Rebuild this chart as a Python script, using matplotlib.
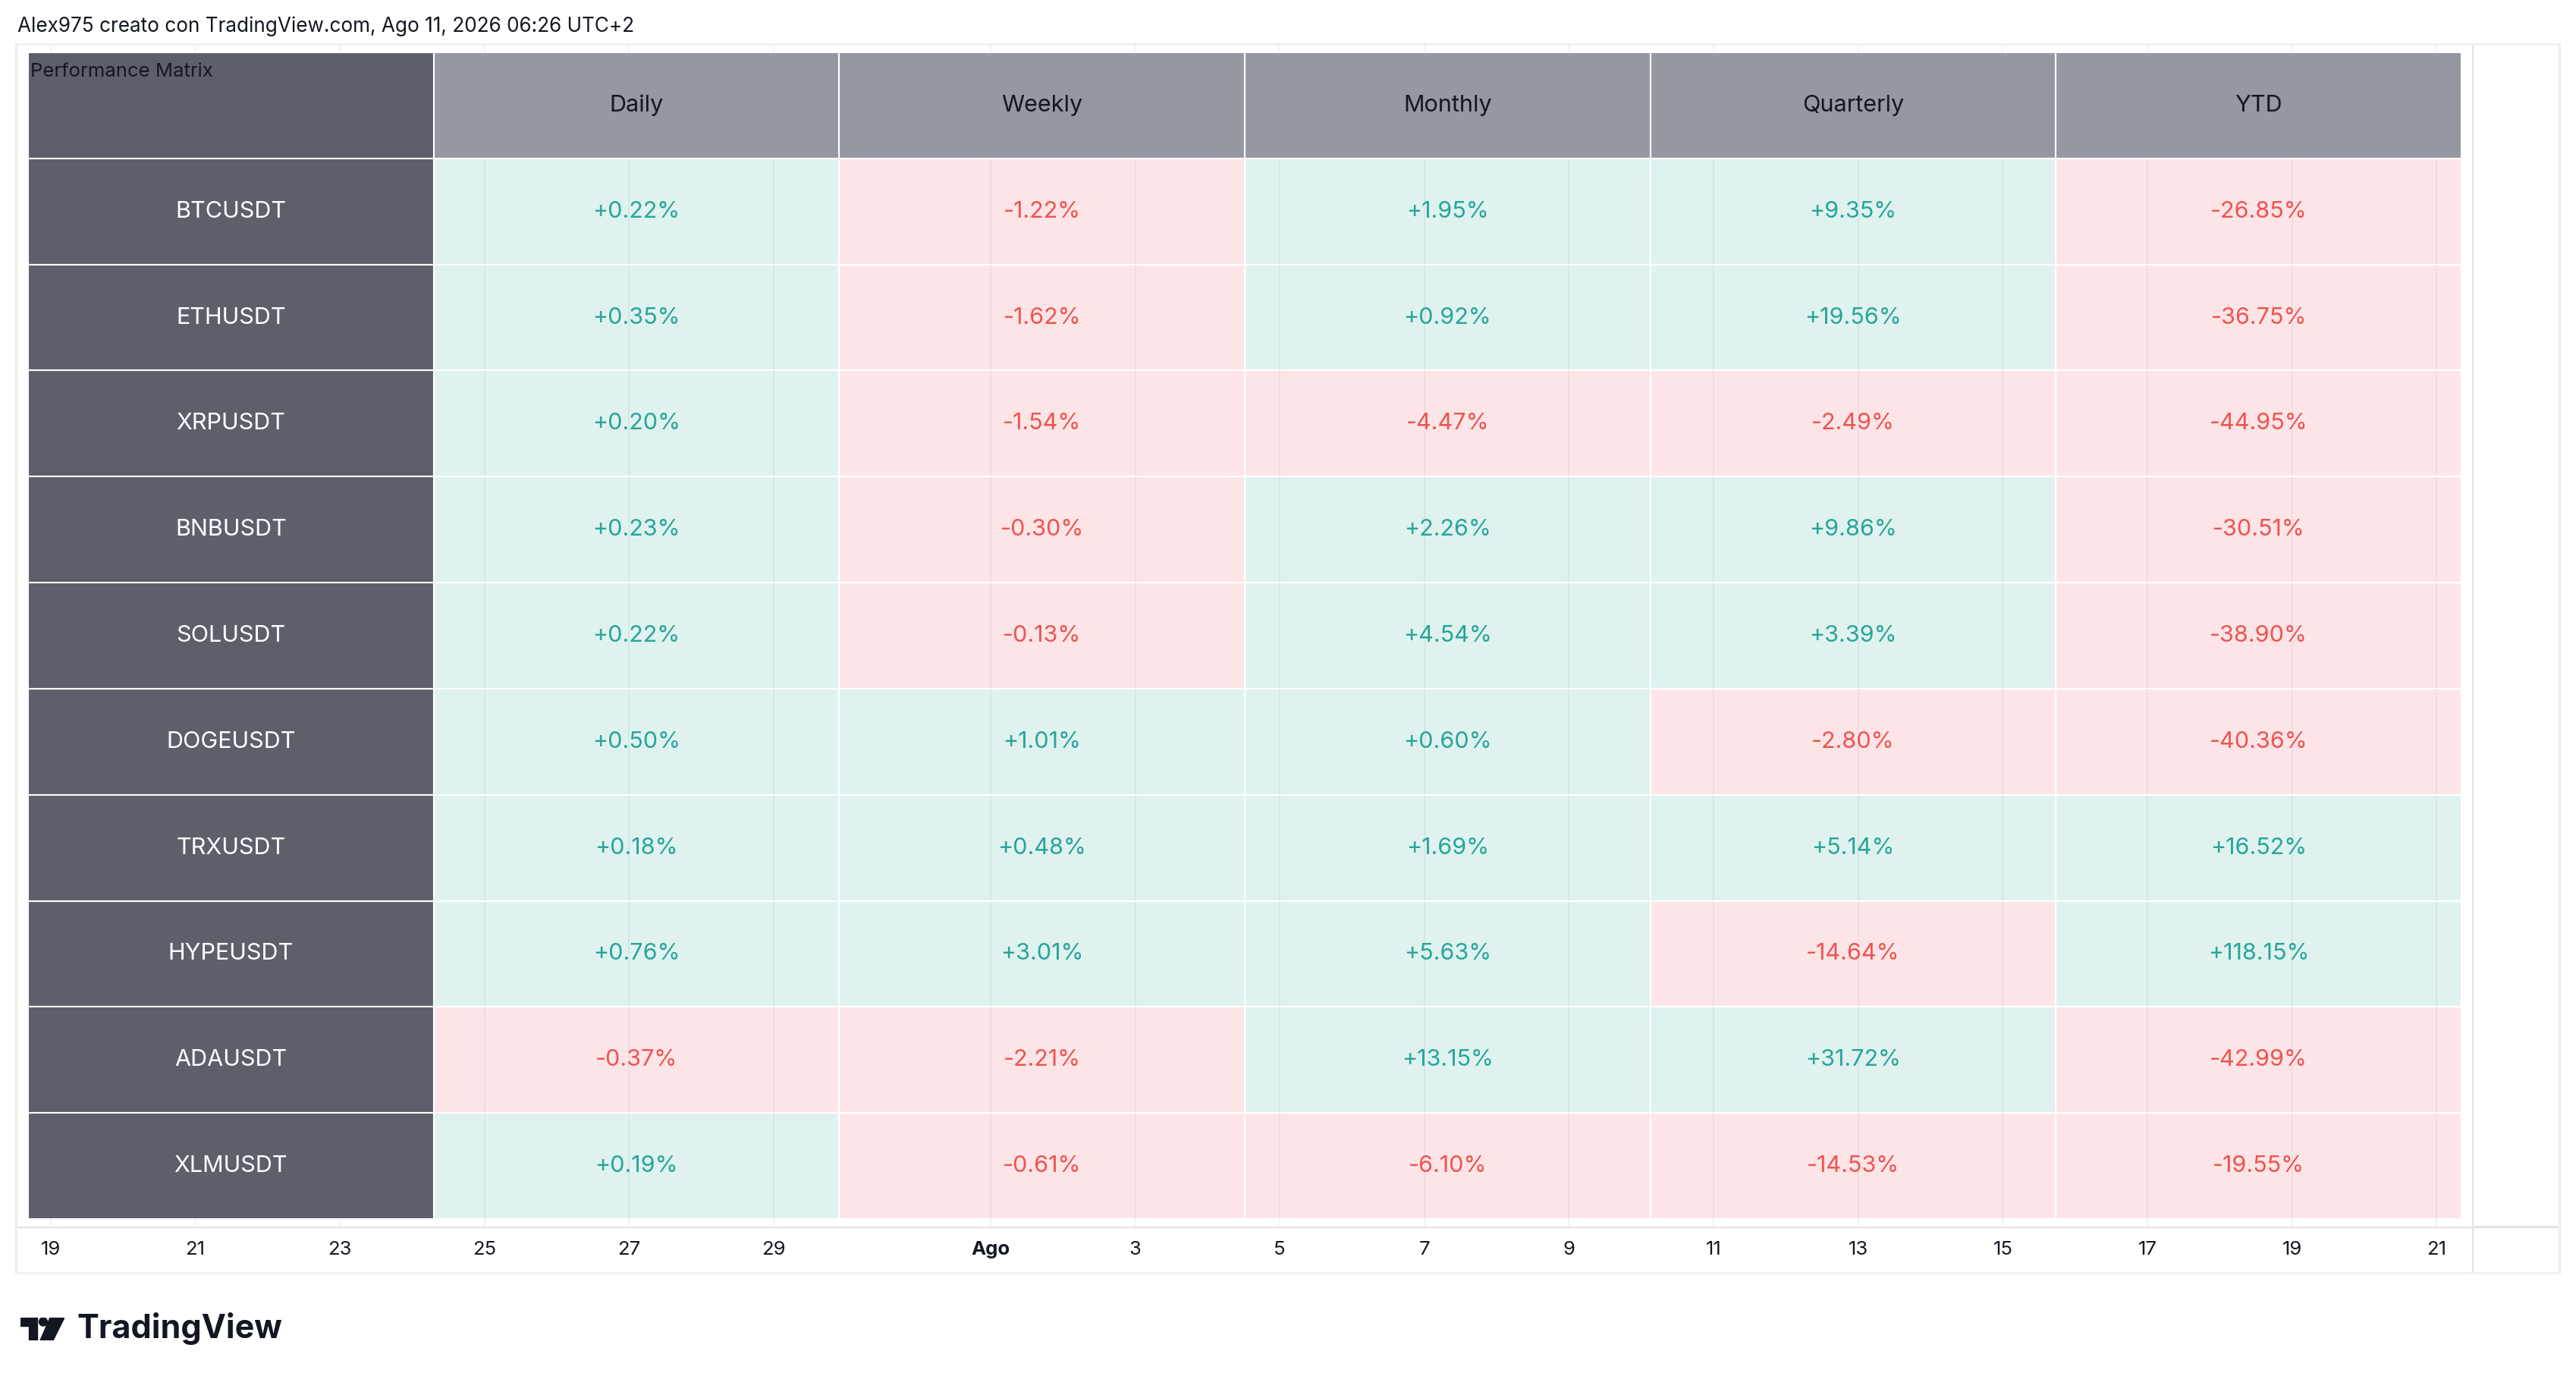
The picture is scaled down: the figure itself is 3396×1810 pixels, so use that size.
import matplotlib
matplotlib.use('Agg')
import matplotlib.pyplot as plt
from matplotlib.patches import Rectangle, Polygon, Circle

# ── Data ──
symbols = ["BTCUSDT", "ETHUSDT", "XRPUSDT", "BNBUSDT", "SOLUSDT",
           "DOGEUSDT", "TRXUSDT", "HYPEUSDT", "ADAUSDT", "XLMUSDT"]
periods = ["Daily", "Weekly", "Monthly", "Quarterly", "YTD"]
daily = [0.22, 0.35, 0.20, 0.23, 0.22, 0.50, 0.18, 0.76, -0.37, 0.19]
weekly = [-1.22, -1.62, -1.54, -0.30, -0.13, 1.01, 0.48, 3.01, -2.21, -0.61]
monthly = [1.95, 0.92, -4.47, 2.26, 4.54, 0.60, 1.69, 5.63, 13.15, -6.10]
quarterly = [9.35, 19.56, -2.49, 9.86, 3.39, -2.80, 5.14, -14.64, 31.72, -14.53]
ytd = [-26.85, -36.75, -44.95, -30.51, -38.90, -40.36, 16.52, 118.15, -42.99, -19.55]

# time axis: days relative to 1 Aug
tick_days = [-13, -11, -9, -7, -5, -3, 0, 2, 4, 6, 8, 10, 12, 14, 16, 18, 20]
tick_labels = ["19", "21", "23", "25", "27", "29", "Ago", "3", "5", "7",
               "9", "11", "13", "15", "17", "19", "21"]
day_lim = (-13.48, 20.50)

title = "Alex975 creato con TradingView.com, Ago 11, 2026 06:26 UTC+2"

# ── Style ──
FONT = ['Inter', 'DejaVu Sans']
plt.rcParams['font.family'] = FONT
C_DARK = '#5d606b'
C_HEAD = '#9598a1'
C_TXT = '#131722'
C_UP_TXT = '#26a69a'
C_DN_TXT = '#ef5350'
C_UP_BG = (8/255, 153/255, 129/255, 0.125)
C_DN_BG = (242/255, 54/255, 69/255, 0.125)
C_GRID = '#f0f3fa'
C_BORDER = '#e0e3eb'

W, H = 3396, 1810


def box(x0, y0, x1, y1):
    return [x0 / W, 1 - y1 / H, (x1 - x0) / W, (y1 - y0) / H]


fig = plt.figure(figsize=(W / 100, H / 100), dpi=100)
fig.patch.set_facecolor('white')

fig.text(23 / W, 1 - 35 / H, title, fontsize=18.8, color=C_TXT, va='center', ha='left')

# ── Chart pane with grid ──
ax_pane = fig.add_axes(box(21, 58, 3260, 1617))
ax_pane.set_xlim(*day_lim)
ax_pane.set_ylim(0, 1)
for d in tick_days:
    ax_pane.axvline(d, color=C_GRID, lw=1.4, zorder=0)
ax_pane.set_xticks([])
ax_pane.set_yticks([])
for s in ax_pane.spines.values():
    s.set_visible(False)

# ── Time axis ──
ax_time = fig.add_axes(box(21, 1617, 3260, 1678))
ax_time.set_xlim(*day_lim)
ax_time.set_ylim(0, 1)
ax_time.set_xticks([])
ax_time.set_yticks([])
for s in ax_time.spines.values():
    s.set_visible(False)
for d, lab in zip(tick_days, tick_labels):
    ax_time.text(d, 0.5, lab, ha='center', va='center', fontsize=18.5, color=C_TXT,
                 fontweight='bold' if lab == "Ago" else 'normal')

# borders
ax_time.axhline(1, color=C_BORDER, lw=2.4)
ax_price = fig.add_axes(box(3260, 58, 3374, 1678))
ax_price.set_xticks([])
ax_price.set_yticks([])
for k, s in ax_price.spines.items():
    s.set_visible(k == 'left')
    s.set_color(C_BORDER)
    s.set_linewidth(1.6)
ax_price.axhline(1 - (1617 - 58) / (1678 - 58), color=C_BORDER, lw=2.4)

ax_frame = fig.add_axes(box(21, 58, 3374, 1678))
ax_frame.patch.set_alpha(0)
ax_frame.set_xticks([])
ax_frame.set_yticks([])
for s in ax_frame.spines.values():
    s.set_color('#f0f0f0')
    s.set_linewidth(2.2)

# ── Table ──
ax_t = fig.add_axes(box(37, 69, 3245, 1607))
ax_t.patch.set_alpha(0)
ax_t.set_xlim(0, len(periods) + 1)
ax_t.set_ylim(len(symbols) + 1, 0)
ax_t.axis('off')

columns = [daily, weekly, monthly, quarterly, ytd]

# header row
ax_t.add_patch(Rectangle((0, 0), 1, 1, facecolor=C_DARK, edgecolor='white', lw=1.5))
ax_t.annotate("Performance Matrix", xy=(0, 0), xytext=(2, -10), textcoords='offset points',
              ha='left', va='top', fontsize=18.5, color=C_TXT)
for j, p in enumerate(periods):
    ax_t.add_patch(Rectangle((j + 1, 0), 1, 1, facecolor=C_HEAD, edgecolor='white', lw=1.5))
    ax_t.text(j + 1.5, 0.5, p, ha='center', va='center', fontsize=22, color=C_TXT)

# body rows
for i, sym in enumerate(symbols):
    y = i + 1
    ax_t.add_patch(Rectangle((0, y), 1, 1, facecolor=C_DARK, edgecolor='white', lw=1.5))
    ax_t.text(0.5, y + 0.5, sym, ha='center', va='center', fontsize=22, color='white')
    for j, col in enumerate(columns):
        v = col[i]
        up = v >= 0
        ax_t.add_patch(Rectangle((j + 1, y), 1, 1, facecolor=C_UP_BG if up else C_DN_BG,
                                 edgecolor='white', lw=1.5))
        ax_t.text(j + 1.5, y + 0.5, f"{v:+.2f}%", ha='center', va='center', fontsize=22,
                  color=C_UP_TXT if up else C_DN_TXT)

# ── TradingView logo ──
ax_logo = fig.add_axes(box(27, 1737, 85, 1767))
ax_logo.set_xlim(0, 58)
ax_logo.set_ylim(30, 0)
ax_logo.axis('off')
ax_logo.add_patch(Polygon([(0, 0), (22, 0), (22, 30), (11, 30), (11, 11), (0, 11)],
                          closed=True, color='#131722'))
ax_logo.add_patch(Circle((30, 5.5), 5.5, color='#131722'))
ax_logo.add_patch(Polygon([(39, 0), (58, 0), (43, 30), (26, 30)], closed=True, color='#131722'))
fig.text(101 / W, 1 - 1751 / H, "TradingView", fontsize=31, fontweight='bold',
         color='#131722', va='center', ha='left')

fig.savefig('out.png', dpi=100)
